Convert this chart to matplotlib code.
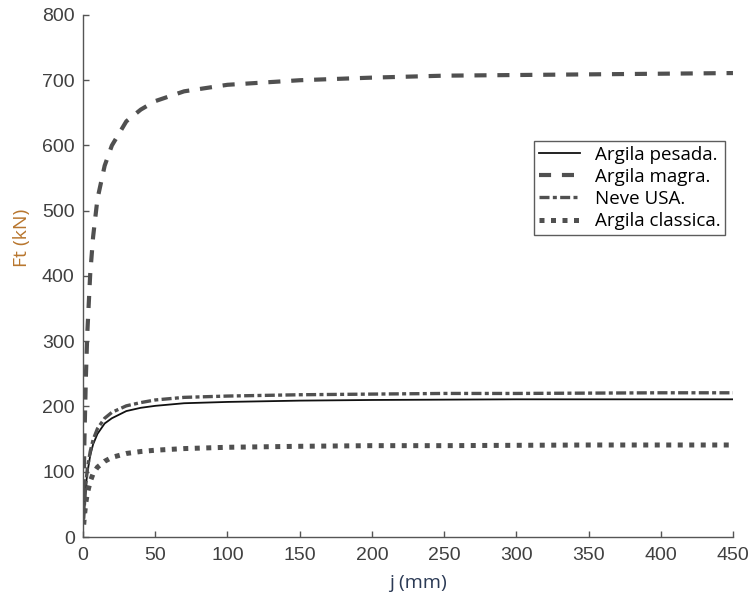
import matplotlib.pyplot as plt

# Deslocamento j (mm) e força Ft (kN)
j = [0.5, 1, 2, 3, 5, 7, 10, 15, 20, 30, 40, 50, 70, 100, 150, 200, 250, 300, 350, 400, 450]
j_magra = [0.2] + j[1:]

argila_pesada = [27, 47, 78, 98, 125, 142, 158, 174, 182, 193, 198, 201, 205, 207, 209, 210,
                 210.5, 211, 211, 211, 211]
argila_magra = [35, 150, 245, 313, 403, 460, 518, 569, 600, 637, 655, 668, 683, 693, 700, 704,
                707, 708, 709, 710, 711]
neve_usa = [28, 50, 82, 104, 131, 149, 166, 182, 191, 201, 206, 210, 214, 216, 218, 219,
            220, 220, 220.5, 221, 221]
argila_classica = [19, 33, 53, 67, 85, 97, 107, 116, 122, 128, 131, 133, 135.5, 137.5, 139, 140,
                   140, 140.5, 141, 141, 141]

xticks = [0, 50, 100, 150, 200, 250, 300, 350, 400, 450]
yticks = [0, 100, 200, 300, 400, 500, 600, 700, 800]

fig = plt.figure(figsize=(7.49, 5.97), dpi=100)
ax = fig.add_axes([0.1108, 0.1005, 0.8678, 0.8744])

grey = '#505050'
ax.plot(j, argila_pesada, color='#111111', linewidth=1.3, label='Argila pesada.')
ax.plot(j_magra, argila_magra, color=grey, linewidth=3.0, dashes=(2.9, 2.6), label='Argila magra.')
ax.plot(j, neve_usa, color=grey, linewidth=2.4, dashes=(3.0, 1.0, 1.2, 1.0), label='Neve USA.')
ax.plot(j, argila_classica, color=grey, linewidth=3.6, dashes=(1.0, 1.3), label='Argila classica.')

ax.set_xlim(0, 450)
ax.set_ylim(0, 800)
ax.set_xticks(xticks)
ax.set_yticks(yticks)

for s in ['top', 'right']:
    ax.spines[s].set_visible(False)
for s in ['left', 'bottom']:
    ax.spines[s].set_color('#555555')
    ax.spines[s].set_linewidth(1.0)

ax.tick_params(direction='in', length=4, width=1, color='#555555', labelcolor='#404040',
               labelsize=14)
ax.tick_params(axis='x', pad=7)
ax.tick_params(axis='y', pad=6)
for lab in ax.get_xticklabels() + ax.get_yticklabels():
    lab.set_family('Liberation Sans')

fig.text(0.030, 1 - 238 / 597, 'Ft (kN)', rotation=90, ha='center', va='center',
         fontsize=14, color='#b8762e', family='Open Sans')
fig.text(418 / 749, 1 - 583 / 597, 'j (mm)', ha='center', va='center',
         fontsize=14, color='#2b3a55', family='Open Sans')

leg = ax.legend(loc='upper left', bbox_to_anchor=(534 / 749, 1 - 141 / 597),
                bbox_transform=fig.transFigure, frameon=True, fancybox=False,
                borderpad=0.25, labelspacing=0.22, handlelength=2.2, handletextpad=0.8,
                borderaxespad=0, prop={'family': 'Open Sans', 'size': 13.5})
leg.get_frame().set_edgecolor('#333333')
leg.get_frame().set_linewidth(1.0)

fig.savefig('out.png', dpi=100)
